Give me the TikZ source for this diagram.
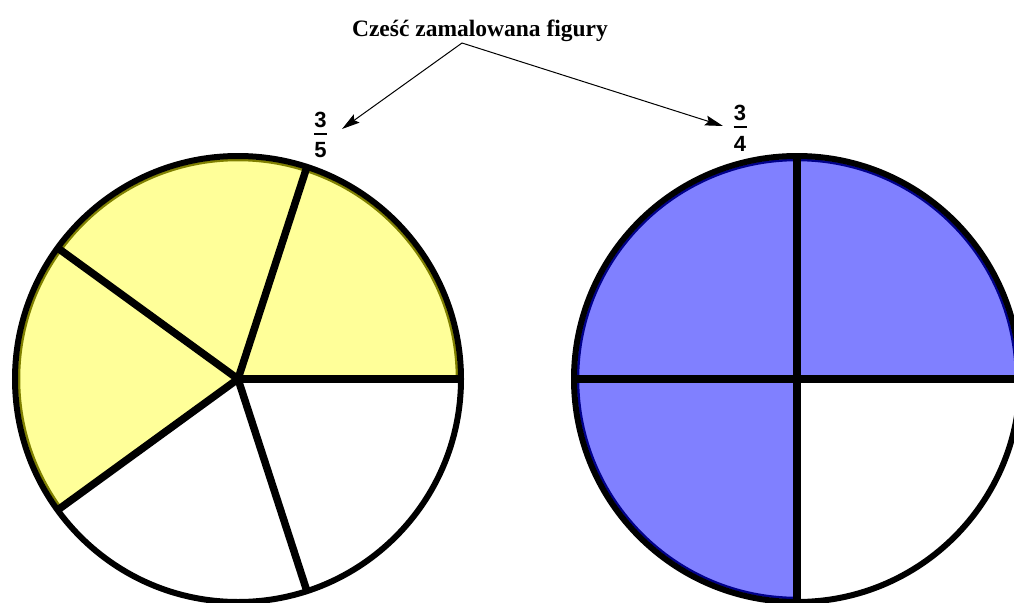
\documentclass[tikz,border=0pt]{standalone}
\usepackage{fontspec}
\setmainfont{Liberation Serif}
\newfontfamily\digitfont{Liberation Sans}
\usetikzlibrary{arrows.meta}
\definecolor{yfill}{RGB}{255,255,153}
\definecolor{yedge}{RGB}{128,128,0}
\definecolor{bfill}{RGB}{128,128,255}
\definecolor{bedge}{RGB}{0,0,140}
\tikzset{
  rim/.style={draw=black, line width=6pt},
  spoke/.style={draw=black, line width=7.5pt},
  pointer/.style={draw=black, line width=1pt, -{Stealth[length=18pt,width=10pt,inset=3pt]}},
  digit/.style={font=\digitfont\bfseries\fontsize{22}{22}\selectfont, inner sep=0pt},
  fracbar/.style={draw=black, line width=2.5pt},
  title/.style={font=\bfseries\fontsize{23.5}{26}\selectfont, inner sep=0pt}
}
\begin{document}
\begin{tikzpicture}[x=1pt,y=-1pt]
\useasboundingbox (0,0) rectangle (1014,602);
\clip (0,0) rectangle (1014,602);
\fill[white] (0,0) rectangle (1014,602);
% ---- left circle (3/5)
\coordinate (lc) at (238,379);
\fill[yfill] (lc) -- ++(0:223) arc[start angle=0, end angle=-216, radius=223] -- cycle;
\draw[yedge, line width=2.5pt] (lc) ++(0:219) arc[start angle=0, end angle=-216, radius=219];
\draw[rim] (lc) circle[radius=223];
\foreach \a in {0,72,144,216,288}
  \draw[spoke] (lc) -- ++(-\a:223);
% ---- right circle (3/4)
\coordinate (rc) at (797,379);
\fill[bfill] (rc) -- ++(0:223) arc[start angle=0, end angle=-270, radius=223] -- cycle;
\draw[bedge, line width=2.5pt] (rc) ++(0:219) arc[start angle=0, end angle=-270, radius=219];
\draw[rim] (rc) circle[radius=223];
\foreach \a in {0,90,180,270}
  \draw[spoke] (rc) -- ++(-\a:223);
% ---- fractions
\node[digit] (n1) at (320.5,120) {3};
\node[digit] (d1) at (320.5,150) {5};
\draw[fracbar] (314,134) -- (327,134);
\node[digit] (n2) at (740,113) {3};
\node[digit] (d2) at (740,144) {4};
\draw[fracbar] (733.5,127) -- (746.5,127);
% ---- title and arrows
\node[title, anchor=base] (t) at (480,37) {Cześć zamalowana figury};
\coordinate (apex) at (462,43);
\coordinate (tipL) at (342,129);
\coordinate (tipR) at (723,126);
\draw[pointer] (apex) -- (tipL);
\draw[pointer] (apex) -- (tipR);
\end{tikzpicture}
\end{document}
